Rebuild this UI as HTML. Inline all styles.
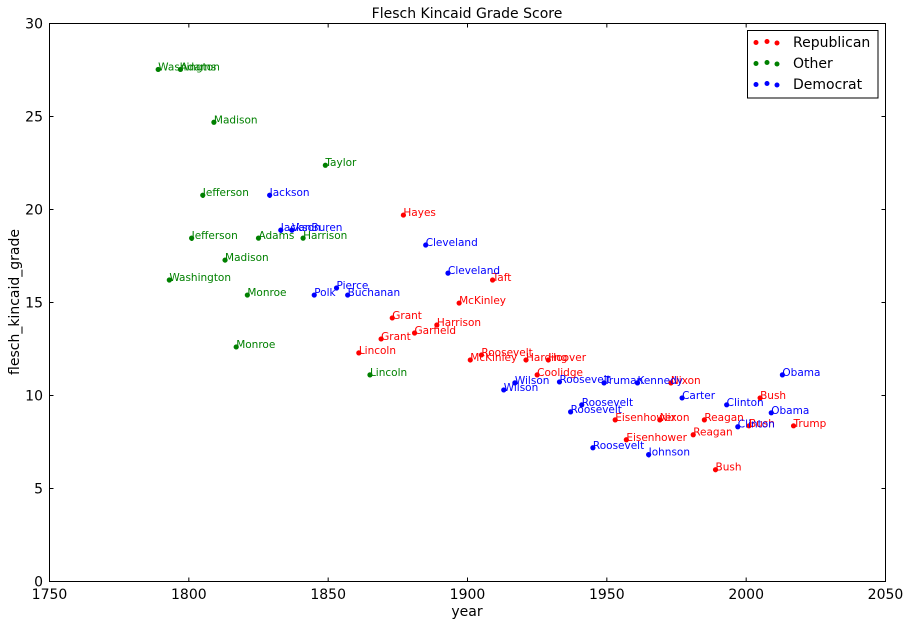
<!DOCTYPE html>
<html><head><meta charset="utf-8"><style>
body{margin:0;background:#fff;}
svg{display:block;font-family:"DejaVu Sans","Liberation Sans",sans-serif;}
</style></head><body>
<svg id="chart" width="911" height="625" viewBox="0 0 911 625" xmlns="http://www.w3.org/2000/svg">
<rect width="911" height="625" fill="#fff"/>
<text x="467" y="18" font-size="14" text-anchor="middle">Flesch Kincaid Grade Score</text>
<text x="467" y="616" font-size="14" text-anchor="middle">year</text>
<text transform="translate(19,302) rotate(-90)" font-size="14" text-anchor="middle">flesch_kincaid_grade</text>
<g id="axes"></g>
<g id="points"></g>
<rect x="49.5" y="23.5" width="836" height="558" fill="none" stroke="#000" stroke-width="1"/>
<g>
<rect x="747.5" y="30.5" width="130.5" height="67.5" fill="#fff" stroke="#000"/>
<g><circle cx="756" cy="42.5" r="2.5" fill="red"/><circle cx="767" cy="41.5" r="2.5" fill="red"/><circle cx="777" cy="43" r="2.5" fill="red"/><text x="793" y="47" font-size="14">Republican</text></g>
<g><circle cx="756" cy="63.5" r="2.5" fill="green"/><circle cx="767" cy="62.5" r="2.5" fill="green"/><circle cx="777" cy="64" r="2.5" fill="green"/><text x="793" y="68" font-size="14">Other</text></g>
<g><circle cx="756" cy="84.5" r="2.5" fill="blue"/><circle cx="767" cy="83.5" r="2.5" fill="blue"/><circle cx="777" cy="85" r="2.5" fill="blue"/><text x="793" y="89" font-size="14">Democrat</text></g>
</g>
</svg>
<script>
const otherNames=["Washington","Washington","Adams","Jefferson","Jefferson","Madison","Madison","Monroe","Monroe","Adams","Harrison","Taylor","Lincoln"];
const otherYears=[1789,1793,1797,1801,1805,1809,1813,1817,1821,1825,1841,1849,1865];
const otherGrades=[27.53,16.21,27.53,18.46,20.77,24.69,17.28,12.61,15.40,18.46,18.46,22.38,11.11];
const demNames=["Jackson","Jackson","VanBuren","Polk","Pierce","Buchanan","Cleveland","Cleveland","Wilson","Wilson","Roosevelt","Roosevelt","Roosevelt","Roosevelt","Truman","Kennedy","Johnson","Carter","Clinton","Clinton","Obama","Obama"];
const demYears=[1829,1833,1837,1845,1853,1857,1885,1893,1913,1917,1933,1937,1941,1945,1949,1961,1965,1977,1993,1997,2009,2013];
const demGrades=[20.77,18.89,18.89,15.40,15.78,15.40,18.09,16.58,10.30,10.68,10.73,9.12,9.50,7.19,10.68,10.68,6.82,9.87,9.50,8.32,9.07,11.11];
const repNames=["Lincoln","Grant","Grant","Hayes","Garfield","Harrison","McKinley","McKinley","Roosevelt","Taft","Harding","Coolidge","Hoover","Eisenhower","Eisenhower","Nixon","Nixon","Reagan","Reagan","Bush","Bush","Bush","Trump"];
const repYears=[1861,1869,1873,1877,1881,1889,1897,1901,1905,1909,1921,1925,1929,1953,1957,1969,1973,1981,1985,1989,2001,2005,2017];
const repGrades=[12.29,13.04,14.17,19.70,13.36,13.79,14.97,11.91,12.18,16.21,11.91,11.11,11.91,8.69,7.62,8.69,10.68,7.89,8.69,6.01,8.37,9.87,8.37];
const xTicks=[1750,1800,1850,1900,1950,2000,2050];
const yTicks=[0,5,10,15,20,25,30];

const X0=49.5,X1=885.5,Y0=581.5,Y1=23.5;
function xs(v){return X0+(v-1750)/300*(X1-X0);}
function ys(v){return Y0-(v/30)*(Y0-Y1);}
const NS="http://www.w3.org/2000/svg";
const axes=document.getElementById('axes');
const pts=document.getElementById('points');
function mk(tag,attrs,parent){const e=document.createElementNS(NS,tag);for(const k in attrs)e.setAttribute(k,attrs[k]);parent.appendChild(e);return e;}
xTicks.forEach(t=>{
  const x=xs(t);
  const g=mk('g',{},axes);
  
  
  mk('line',{x1:x,x2:x,y1:Y0,y2:Y0-4,stroke:'#000'},g);
  mk('line',{x1:x,x2:x,y1:Y1,y2:Y1+4,stroke:'#000'},g);
  const tx=mk('text',{x:x,y:599,'font-size':14,'text-anchor':'middle'},g);tx.textContent=t;
});
yTicks.forEach(t=>{
  const y=ys(t);
  const g=mk('g',{},axes);
  
  
  mk('line',{x1:X0,x2:X0+4,y1:y,y2:y,stroke:'#000'},g);
  mk('line',{x1:X1,x2:X1-4,y1:y,y2:y,stroke:'#000'},g);
  const tx=mk('text',{x:43,y:y+5,'font-size':14,'text-anchor':'end'},g);tx.textContent=t;
});
function series(names,years,grades,color,label){
  names.forEach((n,i)=>{
    const x=xs(years[i]),y=ys(grades[i]);
    const g=mk('g',{},pts);
    
    
    mk('circle',{cx:x,cy:y,r:2.6,fill:color},g);
    const t=mk('text',{x:x,y:y+1,'font-size':10.5,fill:color},g);
    t.textContent=n;
  });
}
series(repNames,repYears,repGrades,'red','republican');
series(otherNames,otherYears,otherGrades,'green','other');
series(demNames,demYears,demGrades,'blue','democrat');
</script>
</body></html>
